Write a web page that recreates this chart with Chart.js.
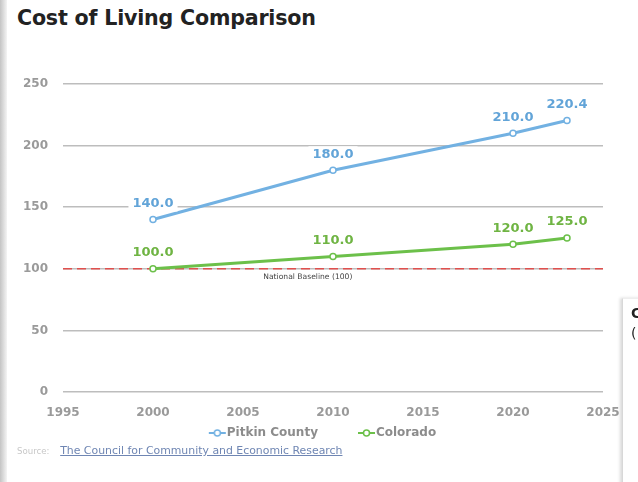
<!DOCTYPE html>
<html>
<head>
<meta charset="utf-8">
<script src="https://cdn.jsdelivr.net/npm/chart.js@4.4.1/dist/chart.umd.min.js"></script>
<style>
  html, body { margin: 0; padding: 0; background: #fff; }
  body { width: 638px; height: 482px; position: relative; overflow: hidden; font-family: "DejaVu Sans", sans-serif; }
  #edge { position: absolute; left: 0; top: 0; width: 7px; height: 482px;
          background: linear-gradient(to right, #c4c4c4, #dcdcdc 50%, #f4f4f4); }
  #title { position: absolute; left: 17px; top: 6px; font-size: 20.6px; font-weight: bold; color: #222; letter-spacing: -0.2px; }
  #source { position: absolute; left: 17px; top: 444px; font-size: 8.6px; color: #c8c8c8; white-space: nowrap; }
  #source a { font-size: 10.9px; color: #6f86b3; text-decoration: underline; margin-left: 8px; }
  #side { position: absolute; left: 622px; top: 298px; width: 30px; height: 200px; background: #fff;
          border-left: 1px solid #d8d8d8; border-top: 1px solid #eee; box-shadow: -2px 0 3px rgba(0,0,0,0.15);
          overflow: hidden; padding: 4px 0 0 8px; font-size: 14px; line-height: 20px; color: #222; }
  #chart { position: absolute; left: 0; top: 0; }
</style>
</head>
<body>
<div id="edge"></div>
<div id="title">Cost of Living Comparison</div>
<canvas id="chart" width="638" height="482"></canvas>
<div id="source">Source: <a href="#">The Council for Community and Economic Research</a></div>
<div id="side"><b>C</b><br>(</div>

<script>
// years and values
const years = [2000, 2010, 2020, 2023];
const pitkinValues = [140.0, 180.0, 210.0, 220.4];
const coloradoValues = [100.0, 110.0, 120.0, 125.0];
const baselineYears = [1995, 2025];
const baselineValues = [100, 100];
const yTicks = [0, 50, 100, 150, 200, 250];
const xTicks = [1995, 2000, 2005, 2010, 2015, 2020, 2025];

const blue = '#72b1e2';
const green = '#6cc04a';
const red = '#e0504e';
const grey = '#9a9a9a';

function toPoints(xs, ys) {
  return xs.map((x, i) => ({ x: x, y: ys[i] }));
}

// legend marker: little line with an open circle, sitting right of the box centre
function legendMarker(color) {
  let c = document.createElement('canvas');
  c.width = 60;
  c.height = 12;
  let ctx = c.getContext('2d');
  ctx.strokeStyle = color;
  ctx.lineWidth = 2;
  ctx.beginPath();
  ctx.moveTo(39, 6);
  ctx.lineTo(56, 6);
  ctx.stroke();
  ctx.beginPath();
  ctx.arc(47.5, 6, 3, 0, Math.PI * 2);
  ctx.fillStyle = '#fff';
  ctx.fill();
  ctx.lineWidth = 1.5;
  ctx.stroke();
  return c;
}
const markers = [legendMarker(blue), legendMarker(green)];

// value labels on white boxes above each point
const valueLabels = {
  id: 'valueLabels',
  afterDatasetsDraw(chart) {
    let ctx = chart.ctx;
    ctx.save();
    ctx.font = 'bold 13px "DejaVu Sans"';
    ctx.textAlign = 'center';
    ctx.textBaseline = 'middle';
    chart.data.datasets.forEach((ds, i) => {
      if (!ds.showValues) return;
      chart.getDatasetMeta(i).data.forEach((pt, j) => {
        let txt = ds.data[j].y.toFixed(1);
        let w = ctx.measureText(txt).width;
        let y = pt.y - 16;
        ctx.fillStyle = '#fff';
        ctx.fillRect(pt.x - w / 2 - 4, y - 8, w + 8, 16);
        ctx.fillStyle = ds.labelColor;
        ctx.fillText(txt, pt.x, y);
      });
    });
    // note under the baseline
    let xs = chart.scales.x, ys = chart.scales.y;
    ctx.font = '7.6px "DejaVu Sans"';
    ctx.fillStyle = '#444';
    ctx.fillText('National Baseline (100)', xs.getPixelForValue(2008.6), ys.getPixelForValue(100) + 8);
    ctx.restore();
  }
};

new Chart(document.getElementById('chart'), {
  type: 'line',
  data: {
    datasets: [
      {
        label: 'Pitkin County',
        data: toPoints(years, pitkinValues),
        borderColor: blue,
        backgroundColor: '#fff',
        borderWidth: 3,
        pointRadius: 3,
        pointBorderWidth: 1.5,
        showValues: true,
        labelColor: '#62a4d8'
      },
      {
        label: 'Colorado',
        data: toPoints(years, coloradoValues),
        borderColor: green,
        backgroundColor: '#fff',
        borderWidth: 3,
        pointRadius: 3,
        pointBorderWidth: 1.5,
        showValues: true,
        labelColor: '#6fb443'
      },
      {
        label: 'baseline',
        data: toPoints(baselineYears, baselineValues),
        borderColor: red,
        borderWidth: 1.6,
        borderDash: [9, 5],
        pointRadius: 0
      }
    ]
  },
  options: {
    responsive: false,
    animation: false,
    layout: { padding: { top: 84, left: 12, right: 35, bottom: 33 } },
    scales: {
      x: {
        type: 'linear',
        min: 1995,
        max: 2025,
        afterFit: s => { s.height = 25; },
        afterBuildTicks: s => { s.ticks = xTicks.map(v => ({ value: v })); },
        grid: { display: false },
        border: { display: false },
        ticks: { color: grey, padding: 6, callback: v => String(v),
                 font: { family: 'DejaVu Sans', size: 12, weight: 'bold' } }
      },
      y: {
        min: 0,
        max: 250,
        afterFit: s => { s.width = 51; },
        afterBuildTicks: s => { s.ticks = yTicks.map(v => ({ value: v })); },
        grid: { color: '#bdbdbd', lineWidth: 1.5, drawTicks: false },
        border: { display: false },
        ticks: { color: grey, padding: 15, callback: v => String(v),
                 font: { family: 'DejaVu Sans', size: 12, weight: 'bold' } }
      }
    },
    plugins: {
      tooltip: { enabled: false },
      legend: {
        position: 'bottom',
        labels: {
          usePointStyle: true,
          pointStyleWidth: 42,
          padding: 10,
          color: '#8c8c8c',
          font: { family: 'DejaVu Sans', size: 12, weight: 'bold' },
          generateLabels: chart => Chart.defaults.plugins.legend.labels.generateLabels(chart)
            .filter(item => item.text !== 'baseline')
            .map(item => { item.pointStyle = markers[item.datasetIndex]; return item; })
        }
      }
    }
  },
  plugins: [valueLabels]
});
</script>
</body>
</html>
